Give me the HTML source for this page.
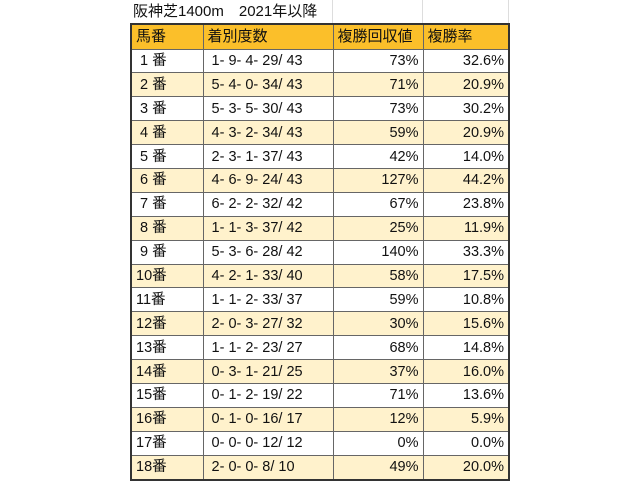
<!DOCTYPE html>
<html><head><meta charset="utf-8"><style>
body{margin:0;width:640px;height:480px;background:#fff;position:relative;overflow:hidden;font-family:"Liberation Sans","Noto Sans CJK JP",sans-serif;color:#111}
.title{position:absolute;left:133px;top:2px;font-size:15px;line-height:20px}
.g{position:absolute;top:0;height:23px;border-left:1px solid #ddd}
table{position:absolute;left:130px;top:23px;border-collapse:collapse;font-size:14.5px}
td{border:1px solid #666;height:22.9px;padding:0 4px;line-height:14px;white-space:nowrap}
tr.h td{background:#fbbf2a;height:23.5px;font-size:15px}
tr.y td{background:#fff2cc}
td.r{text-align:right}
table{border:2px solid #333}
</style></head><body>
<div class="title">阪神芝1400m　2021年以降</div>
<div class="g" style="left:332px"></div><div class="g" style="left:422px"></div><div class="g" style="left:508px"></div>
<table>
<colgroup><col style="width:72px"><col style="width:130px"><col style="width:90px"><col style="width:86px"></colgroup>
<tr class="h"><td>馬番</td><td>着別度数</td><td>複勝回収値</td><td>複勝率</td></tr>
<tr><td>&nbsp;1 番</td><td>&nbsp;1- 9- 4- 29/ 43</td><td class="r">73%</td><td class="r">32.6%</td></tr>
<tr class="y"><td>&nbsp;2 番</td><td>&nbsp;5- 4- 0- 34/ 43</td><td class="r">71%</td><td class="r">20.9%</td></tr>
<tr><td>&nbsp;3 番</td><td>&nbsp;5- 3- 5- 30/ 43</td><td class="r">73%</td><td class="r">30.2%</td></tr>
<tr class="y"><td>&nbsp;4 番</td><td>&nbsp;4- 3- 2- 34/ 43</td><td class="r">59%</td><td class="r">20.9%</td></tr>
<tr><td>&nbsp;5 番</td><td>&nbsp;2- 3- 1- 37/ 43</td><td class="r">42%</td><td class="r">14.0%</td></tr>
<tr class="y"><td>&nbsp;6 番</td><td>&nbsp;4- 6- 9- 24/ 43</td><td class="r">127%</td><td class="r">44.2%</td></tr>
<tr><td>&nbsp;7 番</td><td>&nbsp;6- 2- 2- 32/ 42</td><td class="r">67%</td><td class="r">23.8%</td></tr>
<tr class="y"><td>&nbsp;8 番</td><td>&nbsp;1- 1- 3- 37/ 42</td><td class="r">25%</td><td class="r">11.9%</td></tr>
<tr><td>&nbsp;9 番</td><td>&nbsp;5- 3- 6- 28/ 42</td><td class="r">140%</td><td class="r">33.3%</td></tr>
<tr class="y"><td>10番</td><td>&nbsp;4- 2- 1- 33/ 40</td><td class="r">58%</td><td class="r">17.5%</td></tr>
<tr><td>11番</td><td>&nbsp;1- 1- 2- 33/ 37</td><td class="r">59%</td><td class="r">10.8%</td></tr>
<tr class="y"><td>12番</td><td>&nbsp;2- 0- 3- 27/ 32</td><td class="r">30%</td><td class="r">15.6%</td></tr>
<tr><td>13番</td><td>&nbsp;1- 1- 2- 23/ 27</td><td class="r">68%</td><td class="r">14.8%</td></tr>
<tr class="y"><td>14番</td><td>&nbsp;0- 3- 1- 21/ 25</td><td class="r">37%</td><td class="r">16.0%</td></tr>
<tr><td>15番</td><td>&nbsp;0- 1- 2- 19/ 22</td><td class="r">71%</td><td class="r">13.6%</td></tr>
<tr class="y"><td>16番</td><td>&nbsp;0- 1- 0- 16/ 17</td><td class="r">12%</td><td class="r">5.9%</td></tr>
<tr><td>17番</td><td>&nbsp;0- 0- 0- 12/ 12</td><td class="r">0%</td><td class="r">0.0%</td></tr>
<tr class="y"><td>18番</td><td>&nbsp;2- 0- 0- 8/ 10</td><td class="r">49%</td><td class="r">20.0%</td></tr>
</table>
</body></html>
